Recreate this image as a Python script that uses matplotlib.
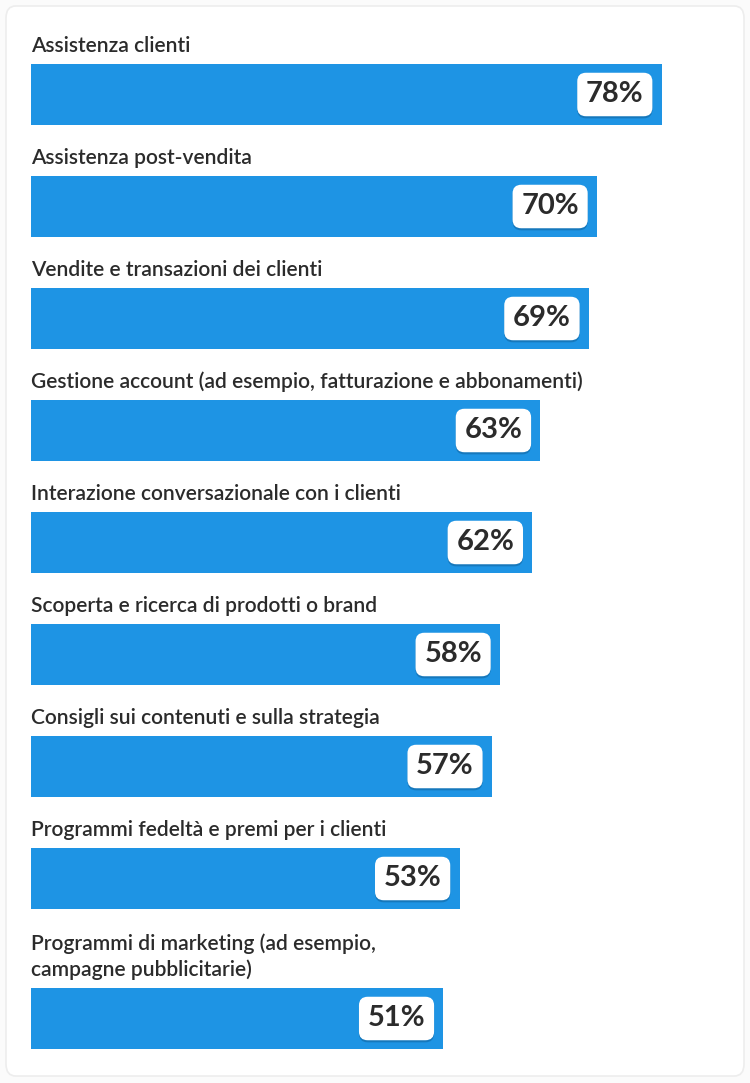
import numpy as np
import matplotlib
matplotlib.use("Agg")
from matplotlib import pyplot as plt
from matplotlib.patches import FancyBboxPatch
import matplotlib.patheffects as pe

categories = [
    "Assistenza clienti",
    "Assistenza post-vendita",
    "Vendite e transazioni dei clienti",
    "Gestione account (ad esempio, fatturazione e abbonamenti)",
    "Interazione conversazionale con i clienti",
    "Scoperta e ricerca di prodotti o brand",
    "Consigli sui contenuti e sulla strategia",
    "Programmi fedeltà e premi per i clienti",
    "Programmi di marketing (ad esempio,\ncampagne pubblicitarie)",
]
values = [78, 70, 69, 63, 62, 58, 57, 53, 51]

BAR_COLOR = "#1e94e4"
TEXT_COLOR = "#2b2b2b"
FONT = ["Lato", "DejaVu Sans"]

W, H = 750, 1083
px_per_pct = 8.085   # pixels per percent
left_px = 31

fig = plt.figure(figsize=(W / 100, H / 100), dpi=100)
fig.patch.set_facecolor("#fbfbfb")
ax = fig.add_axes([0, 0, 1, 1])
ax.set_xlim(-left_px / px_per_pct, (W - left_px) / px_per_pct)
ax.set_ylim(H, 0)
ax.axis("off")

# card behind everything
card = FancyBboxPatch((6 / px_per_pct - left_px / px_per_pct, 6), (W - 12) / px_per_pct, H - 13,
                      boxstyle="round,pad=0,rounding_size=1.2",
                      facecolor="white", edgecolor="#ededed", lw=1.2,
                      mutation_aspect=10, zorder=0)
ax.add_patch(card)

bar_h = 61
# bar centres; the last one gets extra room for the two line label
centres = [94.5 + 112 * i for i in range(8)] + [1018.5]

ax.barh(centres, values, height=bar_h, left=0, color=BAR_COLOR, zorder=2)

for c, cat, v in zip(centres, categories, values):
    top = c - bar_h / 2
    ax.text(0, top - 8, cat, ha="left", va="bottom", fontsize=15.1,
            color=TEXT_COLOR, family=FONT, weight="semibold",
            linespacing=1.3, zorder=3)
    t = ax.text(v - 18 / px_per_pct, c, "%d%%" % v, ha="right", va="center",
                fontsize=21, color=TEXT_COLOR, family=FONT, weight="bold", zorder=4,
                bbox=dict(boxstyle="round,pad=0.3,rounding_size=0.3",
                          facecolor="white", edgecolor="none"))
    t.get_bbox_patch().set_path_effects([
        pe.SimplePatchShadow(offset=(0, -1.5), shadow_rgbFace="#0a4f80", alpha=0.4),
        pe.Normal()])

fig.savefig("out.png", dpi=100, facecolor=fig.get_facecolor())
